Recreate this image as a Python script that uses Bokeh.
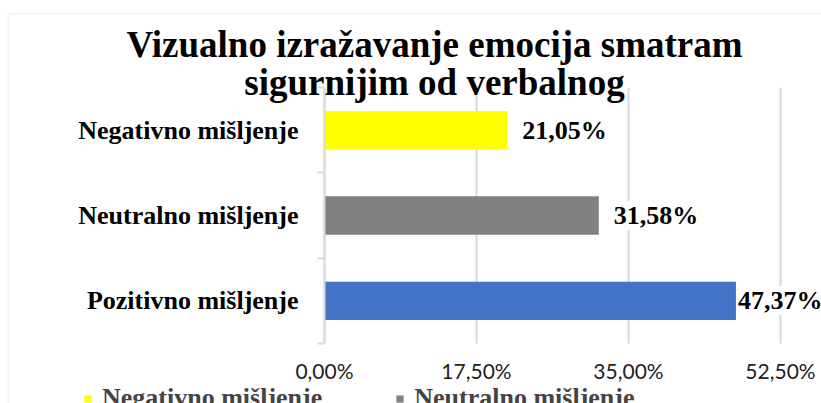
from bokeh.plotting import figure
from bokeh.models import (ColumnDataSource, FixedTicker, LabelSet, Label, Legend,
                          LegendItem, BoxAnnotation, Range1d)
from bokeh.embed import file_html
from bokeh.resources import INLINE

# ---- data ----
title_lines = ["Vizualno izražavanje emocija smatram", "sigurnijim od verbalnog"]
categories = ["Pozitivno mišljenje", "Neutralno mišljenje", "Negativno mišljenje"]
values = [47.37, 31.58, 21.05]
colors = ["#4472C4", "#808080", "#FFFF00"]
x_ticks = [0, 17.5, 35, 52.5]
x_tick_labels = ["0,00%", "17,50%", "35,00%", "52,50%"]
legend_order = ["Negativno mišljenje", "Pozitivno mišljenje", "Neutralno mišljenje"]

# ---- layout / style ----
W, H = 821, 403
PL, PR, PT, PB = 324, 780, 87, 343      # plot area in canvas pixels
SERIF = "Liberation Serif"
label_offsets = [2, 15, 15]

n = len(categories)
xmax = x_ticks[-1]
sx = (PR - PL) / xmax
sy = (PB - PT) / n
x_range = Range1d(-PL / sx, xmax + (W - PR) / sx)
y_range = Range1d(-(H - PB) / sy, n + PT / sy)

pos = [i + 0.5 for i in range(n)]
src = ColumnDataSource(dict(
    pos=pos, value=values, color=colors,
    text=[f"{v:.2f}".replace(".", ",") + "%" for v in values],
    xoff=label_offsets,
))

p = figure(width=W, height=H, output_backend="svg", toolbar_location=None,
           x_range=x_range, y_range=y_range, min_border=0)
p.outline_line_color = None
p.background_fill_color = "white"
p.border_fill_color = "white"
p.xgrid.visible = False
p.ygrid.visible = False

# gridlines (vertical) limited to plot area
p.segment(x0=x_ticks, y0=[0] * len(x_ticks), x1=x_ticks, y1=[n] * len(x_ticks),
          line_color="#d9d9d9", line_width=2)

r = p.hbar(y="pos", right="value", height=0.45, fill_color="color",
           line_color=None, source=src)

# x axis
p.xaxis.fixed_location = 0
p.xaxis.ticker = FixedTicker(ticks=x_ticks)
p.xaxis.major_label_overrides = {t: l for t, l in zip(x_ticks, x_tick_labels)}
p.xaxis.axis_line_color = None
p.xaxis.major_tick_line_color = None
p.xaxis.minor_tick_line_color = None
p.xaxis.major_label_text_font = "Lato"
p.xaxis.major_label_text_font_size = "21px"
p.xaxis.major_label_text_color = "#222222"
p.xaxis.major_label_standoff = 8

# y axis
p.yaxis.fixed_location = 0
p.yaxis.bounds = (0, n)
p.yaxis.ticker = FixedTicker(ticks=pos, minor_ticks=list(range(n + 1)))
p.yaxis.major_label_overrides = {pp: c for pp, c in zip(pos, categories)}
p.yaxis.axis_line_color = "#d9d9d9"
p.yaxis.axis_line_width = 2
p.yaxis.major_tick_line_color = None
p.yaxis.minor_tick_line_color = "#d9d9d9"
p.yaxis.minor_tick_line_width = 2
p.yaxis.minor_tick_in = 0
p.yaxis.minor_tick_out = 7
p.yaxis.major_label_text_font = SERIF
p.yaxis.major_label_text_font_style = "bold"
p.yaxis.major_label_text_font_size = "26px"
p.yaxis.major_label_text_color = "black"
p.yaxis.major_label_standoff = 19

# data labels
labels = LabelSet(x="value", y="pos", text="text", x_offset="xoff", source=src,
                  text_font=SERIF, text_font_style="bold", text_font_size="26px",
                  text_baseline="middle", text_align="left", text_color="black",
                  background_fill_color="white")
p.add_layout(labels)

# title
for i, line in enumerate(title_lines):
    p.add_layout(Label(x=434, y=H - 44 - 38 * i, x_units="screen", y_units="screen",
                       text=line, text_align="center", text_baseline="alphabetic",
                       text_font=SERIF, text_font_style="bold",
                       text_font_size="37px", text_color="black"))

# chart border
p.add_layout(BoxAnnotation(left=8, right=W + 20, top=H - 13, bottom=-20,
                           left_units="screen", right_units="screen",
                           top_units="screen", bottom_units="screen",
                           fill_alpha=0, line_color="#d9d9d9", line_width=2))

# legend (two columns, second row falls below the visible area)
items = [LegendItem(label=c, renderers=[r], index=categories.index(c)) for c in legend_order]
legend = Legend(items=items, location=(83, -113), ncols=2,
                glyph_width=9, glyph_height=9, label_standoff=10, spacing=73,
                label_text_font=SERIF, label_text_font_style="bold",
                label_text_font_size="26px", border_line_color=None,
                background_fill_alpha=0, padding=0, margin=0)
p.add_layout(legend, "center")

open("out.html", "w").write(file_html(p, INLINE))
